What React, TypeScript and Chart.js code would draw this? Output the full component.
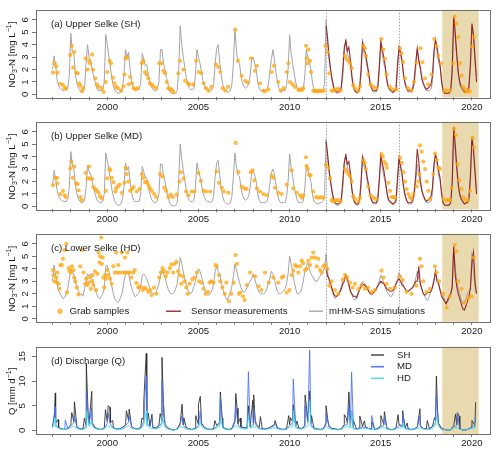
import React, { useEffect, useRef } from "react";
import { Chart, registerables } from "chart.js";

Chart.register(...registerables);

const FONT = '"Liberation Sans", Arial, Helvetica, sans-serif';

// ---------- axes ----------
const X_MIN = 1996.09;
const X_MAX = 2020.99;
const YEAR_TICKS = [1997, 1998, 1999, 2000, 2001, 2002, 2003, 2004, 2005, 2006, 2007, 2008, 2009, 2010, 2011, 2012, 2013, 2014, 2015, 2016, 2017, 2018, 2019, 2020];
const YEAR_LABELS = [2000, 2005, 2010, 2015, 2020];
const NO3_TICKS = [0, 1, 2, 3, 4, 5, 6];
const NO3_MIN = -0.23;
const NO3_MAX = 6.8;
const Q_TICKS = [0, 5, 10, 15];
const Q_MIN = -0.72;
const Q_MAX = 16.95;
const SHADE_PERIOD = [2018.37, 2020.37];
const SENSOR_BREAKS = [2012.0, 2016.0];

// ---------- mHM-SAS simulations, monthly from Jan 1997 (mg N/L) ----------
const SIM_START = 1997;
const simSH = [
  2.0, 3.1, 2.3, 1.2, 0.7, 0.5, 0.4, 0.3, 0.4, 0.3, 0.5, 1.5,
  4.9, 3.4, 3.3, 1.6, 0.9, 0.5, 0.3, 0.2, 0.3, 0.4, 2.5, 4.0,
  3.0, 2.7, 2.1, 1.5, 1.0, 0.5, 0.3, 0.3, 0.3, 0.4, 1.0, 4.8,
  4.0, 3.1, 2.2, 1.3, 0.7, 0.3, 0.2, 0.1, 0.1, 0.2, 0.5, 1.6,
  3.6, 3.0, 3.4, 2.0, 1.1, 0.6, 0.4, 0.4, 0.4, 0.4, 0.9, 3.3,
  2.8, 2.3, 2.4, 1.5, 1.0, 0.6, 0.4, 0.3, 0.3, 0.5, 1.0, 3.6,
  3.6, 2.5, 2.0, 1.3, 0.8, 0.3, 0.1, 0.05, 0.05, 0.1, 0.3, 2.0,
  5.5, 4.0, 3.0, 2.2, 1.3, 0.8, 0.5, 0.4, 0.4, 0.5, 1.5, 3.6,
  3.0, 2.5, 1.8, 1.1, 0.7, 0.5, 0.4, 0.4, 0.3, 0.4, 0.8, 2.5,
  3.7, 4.0, 2.6, 1.5, 0.8, 0.4, 0.3, 0.2, 0.2, 0.3, 0.8, 2.5,
  5.3, 3.5, 2.6, 2.5, 1.5, 0.9, 0.6, 0.5, 0.6, 0.8, 1.5, 2.8,
  3.0, 2.5, 2.0, 1.0, 0.5, 0.3, 0.3, 0.3, 0.3, 0.4, 0.8, 1.8,
  2.8, 3.6, 2.8, 1.8, 1.0, 0.5, 0.3, 0.3, 0.3, 0.3, 0.8, 2.0,
  4.8, 3.3, 2.5, 1.7, 1.0, 0.5, 0.3, 0.3, 0.3, 0.4, 1.5, 3.6,
  3.0, 2.6, 2.0, 1.0, 0.4, 0.3, 0.2, 0.2, 0.3, 0.3, 0.4, 0.8,
  6.0, 4.1, 2.8, 1.8, 1.0, 0.4, 0.2, 0.1, 0.1, 0.2, 0.4, 1.5,
  3.5, 4.4, 3.2, 3.0, 2.5, 1.2, 0.5, 0.2, 0.1, 0.1, 0.3, 1.5,
  4.2, 3.3, 3.0, 2.2, 1.5, 0.8, 0.4, 0.2, 0.2, 0.2, 0.4, 1.8,
  4.0, 3.2, 2.5, 2.0, 1.0, 0.5, 0.3, 0.2, 0.1, 0.2, 0.3, 1.8,
  3.9, 3.2, 2.5, 1.5, 0.8, 0.4, 0.2, 0.2, 0.2, 0.3, 0.8, 2.0,
  3.6, 2.6, 2.0, 1.2, 0.8, 0.5, 0.3, 0.3, 0.3, 0.4, 1.0, 3.0,
  4.3, 3.5, 2.6, 2.2, 1.2, 0.3, 0.2, 0.1, 0.1, 0.2, 0.3, 1.5,
  6.0, 4.5, 3.0, 1.5, 0.8, 0.5, 0.3, 0.2, 0.3, 0.3, 0.5, 2.0,
  5.5, 4.5, 2.5, 1.5,
];
const simMD = [
  1.7, 2.9, 2.2, 1.3, 0.8, 0.6, 0.5, 0.4, 0.4, 0.4, 0.6, 1.5,
  4.4, 3.3, 3.0, 1.7, 1.0, 0.6, 0.4, 0.3, 0.3, 0.5, 1.5, 3.3,
  2.8, 2.6, 2.0, 1.5, 1.0, 0.6, 0.4, 0.3, 0.3, 0.4, 1.0, 4.3,
  3.7, 3.0, 2.2, 1.4, 0.8, 0.4, 0.2, 0.1, 0.1, 0.2, 0.6, 1.6,
  3.5, 2.9, 3.2, 2.0, 1.1, 0.6, 0.4, 0.4, 0.4, 0.4, 1.0, 3.2,
  2.8, 2.3, 2.3, 1.5, 1.0, 0.6, 0.4, 0.3, 0.3, 0.5, 1.0, 3.4,
  3.4, 2.5, 2.0, 1.3, 0.8, 0.3, 0.1, 0.05, 0.05, 0.1, 0.3, 2.0,
  5.0, 3.8, 2.9, 2.1, 1.3, 0.8, 0.5, 0.4, 0.4, 0.5, 1.5, 3.5,
  2.9, 2.4, 1.8, 1.1, 0.7, 0.5, 0.4, 0.4, 0.3, 0.4, 0.8, 2.4,
  3.5, 3.7, 2.5, 1.5, 0.8, 0.4, 0.3, 0.2, 0.2, 0.3, 0.8, 2.4,
  4.3, 3.2, 2.5, 2.4, 1.5, 0.9, 0.6, 0.5, 0.6, 0.8, 1.5, 2.7,
  2.9, 2.5, 2.0, 1.0, 0.5, 0.3, 0.3, 0.3, 0.3, 0.4, 0.8, 1.8,
  2.7, 3.0, 2.6, 1.7, 1.0, 0.5, 0.3, 0.3, 0.3, 0.3, 0.8, 2.0,
  4.2, 3.1, 2.4, 1.6, 1.0, 0.5, 0.3, 0.3, 0.3, 0.4, 1.5, 3.3,
  2.9, 2.5, 2.0, 1.0, 0.4, 0.3, 0.2, 0.2, 0.3, 0.3, 0.4, 0.8,
  5.4, 3.9, 2.7, 1.8, 1.0, 0.4, 0.2, 0.1, 0.1, 0.2, 0.4, 1.5,
  3.4, 4.2, 3.1, 2.9, 2.4, 1.2, 0.5, 0.2, 0.1, 0.1, 0.3, 1.5,
  4.0, 3.2, 2.9, 2.1, 1.5, 0.8, 0.4, 0.2, 0.2, 0.2, 0.4, 1.8,
  3.9, 3.1, 2.4, 1.9, 1.0, 0.5, 0.3, 0.2, 0.1, 0.2, 0.3, 1.8,
  3.8, 3.1, 2.4, 1.5, 0.8, 0.4, 0.2, 0.2, 0.2, 0.3, 0.8, 2.0,
  3.4, 2.5, 2.0, 1.2, 0.8, 0.5, 0.3, 0.3, 0.3, 0.4, 1.0, 3.0,
  4.1, 3.4, 2.5, 2.1, 1.2, 0.3, 0.2, 0.1, 0.1, 0.2, 0.3, 1.5,
  5.8, 4.3, 2.9, 1.5, 0.8, 0.5, 0.3, 0.2, 0.3, 0.3, 0.5, 2.0,
  5.3, 4.2, 2.4, 1.4,
];
const simHD = [
  3.0, 4.3, 3.5, 2.8, 2.2, 2.0, 1.8, 1.6, 1.7, 2.0, 2.4, 3.2,
  4.0, 3.8, 3.5, 3.0, 2.6, 2.2, 1.9, 2.0, 1.8, 2.4, 3.0, 3.6,
  3.4, 3.6, 3.2, 2.8, 2.4, 2.0, 1.7, 1.6, 1.8, 2.0, 2.4, 4.2,
  4.3, 3.8, 3.3, 2.6, 2.0, 1.6, 1.4, 1.3, 1.5, 1.8, 2.2, 3.0,
  3.6, 3.8, 3.6, 3.0, 2.5, 2.1, 1.8, 1.8, 2.0, 2.1, 2.6, 3.5,
  3.6, 3.4, 3.2, 2.8, 2.4, 2.1, 2.0, 2.0, 2.1, 2.4, 2.8, 3.5,
  3.9, 3.6, 3.3, 2.8, 2.4, 2.1, 2.0, 2.0, 2.1, 2.4, 2.8, 3.8,
  4.9, 4.4, 3.8, 3.2, 2.7, 2.3, 2.1, 2.0, 2.2, 2.6, 3.0, 3.6,
  4.0, 3.8, 3.4, 2.9, 2.4, 2.0, 1.9, 1.9, 2.1, 2.3, 2.8, 3.8,
  4.2, 3.8, 3.6, 3.0, 2.4, 2.0, 1.7, 1.5, 1.8, 2.1, 2.6, 3.4,
  4.4, 3.9, 3.4, 2.9, 2.5, 2.2, 2.1, 2.3, 2.5, 2.8, 3.0, 3.2,
  3.6, 3.2, 2.8, 2.4, 2.1, 2.0, 2.0, 2.0, 2.1, 2.4, 2.8, 3.2,
  3.8, 3.6, 3.2, 2.6, 2.2, 2.0, 2.0, 2.1, 2.2, 2.4, 2.8, 3.6,
  5.0, 4.4, 3.8, 3.0, 2.4, 2.0, 2.0, 2.1, 2.4, 3.0, 3.8, 4.2,
  4.5, 4.0, 3.6, 3.4, 3.2, 3.0, 3.0, 3.2, 3.4, 3.6, 3.8, 4.0,
  5.2, 3.8, 3.0, 2.6, 2.2, 1.8, 1.6, 1.8, 2.0, 2.2, 2.6, 3.0,
  3.2, 3.5, 3.0, 2.6, 2.2, 1.9, 1.6, 1.5, 1.6, 2.0, 2.4, 2.8,
  3.0, 2.9, 2.7, 2.4, 2.2, 2.0, 1.9, 2.0, 2.2, 2.4, 2.7, 3.0,
  3.5, 3.2, 2.9, 2.5, 2.2, 2.0, 1.8, 1.8, 2.0, 2.4, 2.8, 3.2,
  3.7, 3.4, 3.0, 2.6, 2.4, 2.2, 2.2, 2.3, 2.4, 2.6, 2.8, 3.2,
  3.8, 3.2, 2.8, 2.4, 2.0, 1.8, 1.5, 1.5, 1.8, 2.2, 2.6, 3.2,
  3.8, 3.2, 2.8, 2.4, 2.0, 1.8, 1.5, 1.2, 1.3, 1.6, 2.0, 2.6,
  5.6, 4.2, 3.0, 2.4, 2.0, 1.5, 1.2, 1.3, 1.6, 2.0, 2.2, 2.5,
  5.3, 3.8, 2.5, 2.0,
];

// ---------- sensor measurements, monthly from Jan 2012 (mg N/L) ----------
const SENSOR_START = 2012;
const sensorSH = [
  5.5, 4.5, 3.0, 2.0, 1.2, 0.6, 0.3, 0.2, 0.2, 0.3, 0.6, 2.0,
  3.8, 4.3, 3.5, 3.8, 2.8, 1.5, 0.6, 0.3, 0.2, 0.2, 0.5, 2.0,
  4.2, 3.6, 3.3, 2.5, 1.8, 0.9, 0.5, 0.3, 0.3, 0.3, 0.6, 2.2,
  4.3, 3.6, 3.0, 2.2, 1.2, 0.6, 0.4, 0.3, 0.2, 0.3, 0.5, 2.4,
  3.8, 3.4, 2.7, 1.6, 0.9, 0.5, 0.3, 0.3, 0.3, 0.5, 1.2, 2.6,
  3.7, 2.8, 2.2, 1.3, 0.9, 0.6, 0.4, 0.5, 0.6, 0.8, 1.5, 3.5,
  4.4, 3.8, 3.0, 2.4, 1.0, 0.3, 0.1, 0.1, 0.1, 0.1, 0.3, 2.0,
  6.3, 5.0, 3.2, 1.8, 1.0, 0.6, 0.4, 0.2, 0.3, 0.3, 0.6, 2.5,
  5.7, 4.8, 3.0, 1.0,
];
const sensorMD = [
  5.2, 4.2, 2.9, 2.0, 1.2, 0.6, 0.3, 0.2, 0.2, 0.3, 0.6, 2.0,
  3.6, 4.1, 3.4, 3.6, 2.7, 1.4, 0.6, 0.3, 0.2, 0.2, 0.5, 2.0,
  4.0, 3.5, 3.2, 2.4, 1.7, 0.9, 0.5, 0.3, 0.3, 0.3, 0.6, 2.2,
  4.1, 3.5, 2.9, 2.1, 1.2, 0.6, 0.4, 0.3, 0.2, 0.3, 0.5, 2.3,
  3.9, 3.3, 2.6, 1.6, 0.9, 0.5, 0.3, 0.3, 0.3, 0.5, 1.2, 2.5,
  4.6, 3.6, 2.1, 1.3, 0.9, 0.6, 0.4, 0.5, 0.6, 0.8, 1.5, 3.4,
  4.2, 3.7, 2.9, 2.3, 1.0, 0.3, 0.1, 0.1, 0.1, 0.1, 0.3, 2.0,
  6.4, 5.0, 3.2, 1.8, 1.0, 0.6, 0.4, 0.2, 0.3, 0.3, 0.6, 2.5,
  5.6, 4.6, 2.9, 1.0,
];
const sensorHD = [
  4.0, 3.4, 3.2, 2.8, 2.4, 2.0, 1.8, 1.8, 1.9, 2.1, 2.4, 2.8,
  3.0, 3.5, 3.2, 2.8, 2.2, 2.0, 1.8, 1.8, 1.7, 2.0, 2.3, 2.6,
  2.8, 2.7, 2.6, 2.5, 2.2, 2.0, 2.0, 2.1, 2.2, 2.4, 2.6, 2.8,
  3.0, 2.9, 2.8, 2.6, 2.4, 2.3, 2.2, 2.2, 2.3, 2.5, 2.8, 3.0,
  3.2, 3.0, 2.7, 2.6, 2.4, 2.2, 2.2, 2.3, 2.4, 2.5, 2.7, 3.0,
  3.0, 4.2, 2.8, 2.4, 2.0, 1.9, 2.0, 2.1, 2.1, 2.2, 2.5, 3.0,
  3.8, 3.0, 2.8, 2.3, 1.8, 1.6, 1.4, 1.2, 1.5, 1.8, 2.0, 2.5,
  5.8, 3.5, 2.6, 2.0, 1.6, 1.2, 0.8, 0.7, 1.0, 1.4, 1.8, 2.4,
  4.5, 5.3, 3.0, 2.0,
];

// ---------- grab samples [decimal year, mg N/L] ----------
const grabSH: [number, number][] = [
  [1997.02, 1.75], [1997.11, 2.5], [1997.2, 2.25], [1997.27, 1.75], [1997.42, 0.86], [1997.57, 0.76], [1997.66, 0.5], [1997.72, 0.5],
  [1997.97, 3.17], [1998.04, 3.9], [1998.13, 2.15], [1998.19, 3.4], [1998.3, 1.75], [1998.37, 1.7], [1998.45, 0.9], [1998.52, 0.7],
  [1998.61, 0.25], [1998.67, 0.5], [1998.81, 2.9], [1998.92, 2.0], [1999.0, 2.7], [1999.06, 2.5], [1999.17, 3.2], [1999.22, 2.0],
  [1999.34, 1.3], [1999.43, 0.8], [1999.52, 0.6], [1999.69, 0.5], [1999.8, 0.2], [1999.92, 1.0], [2000.0, 1.8], [2000.12, 2.7],
  [2000.2, 2.5], [2000.31, 1.35], [2000.4, 0.9], [2000.48, 0.6], [2000.58, 0.5], [2000.76, 0.3], [2000.89, 0.65], [2000.94, 1.6],
  [2001.0, 2.9], [2001.09, 2.95], [2001.17, 0.8], [2001.25, 1.4], [2001.35, 0.9], [2001.44, 0.5], [2001.55, 0.4], [2001.67, 0.5],
  [2001.89, 2.5], [2001.98, 2.7], [2002.07, 1.8], [2002.16, 1.6], [2002.25, 1.3], [2002.34, 0.9], [2002.43, 0.8], [2002.53, 0.65],
  [2002.67, 0.5], [2002.86, 2.5], [2002.98, 2.5], [2003.07, 1.9], [2003.17, 1.7], [2003.26, 1.0], [2003.35, 0.5], [2003.44, 0.4],
  [2003.53, 0.4], [2003.63, 0.2], [2003.9, 1.7], [2003.99, 2.7], [2004.17, 2.0], [2004.27, 1.1], [2004.42, 0.9], [2004.5, 0.8],
  [2004.72, 0.8], [2004.87, 2.7], [2005.01, 1.8], [2005.16, 1.7], [2005.29, 0.9], [2005.41, 0.5], [2005.56, 0.3], [2005.71, 0.6],
  [2005.96, 2.4], [2006.09, 2.2], [2006.2, 1.8], [2006.33, 0.5], [2006.47, 0.3], [2006.62, 0.6], [2007.02, 5.2], [2007.17, 2.7],
  [2007.37, 1.5], [2007.57, 1.1], [2007.7, 0.95], [2007.88, 2.9], [2008.1, 1.9], [2008.2, 2.3], [2008.38, 0.9], [2008.56, 0.3],
  [2008.65, 0.25], [2008.83, 0.4], [2009.02, 1.8], [2009.14, 2.3], [2009.38, 1.0], [2009.51, 0.3], [2009.66, 0.5], [2009.84, 1.8],
  [2009.93, 2.5], [2010.02, 1.0], [2010.17, 0.8], [2010.3, 0.6], [2010.48, 0.35], [2010.57, 0.4], [2010.66, 0.35], [2010.75, 0.5],
  [2010.9, 3.9], [2010.94, 2.9], [2010.97, 2.5], [2011.03, 3.6], [2011.12, 2.7], [2011.17, 1.8], [2011.3, 0.3], [2011.39, 0.25],
  [2011.48, 0.3], [2011.57, 0.25], [2011.67, 0.3], [2011.76, 0.25], [2011.88, 0.3], [2011.96, 3.9], [2012.07, 3.4], [2012.18, 1.7],
  [2012.3, 0.3], [2012.4, 0.3], [2012.54, 0.4], [2012.67, 0.45], [2012.8, 0.3], [2013.04, 3.1], [2013.13, 2.85], [2013.22, 2.7],
  [2013.31, 2.5], [2013.4, 2.1], [2013.49, 0.75], [2013.58, 0.5], [2013.77, 0.3], [2013.86, 0.65], [2014.04, 3.9], [2014.13, 3.7],
  [2014.19, 3.1], [2014.31, 1.6], [2014.44, 0.8], [2014.59, 0.6], [2014.73, 0.5], [2015.04, 4.45], [2015.14, 3.6], [2015.23, 2.85],
  [2015.32, 1.6], [2015.5, 0.6], [2015.65, 0.4], [2015.87, 0.4], [2016.05, 3.7], [2016.14, 3.3], [2016.23, 2.6], [2016.32, 1.3],
  [2016.5, 0.5], [2016.69, 0.3], [2016.82, 1.0], [2016.96, 2.55], [2017.18, 3.7], [2017.29, 2.6], [2017.42, 1.3], [2017.6, 0.8],
  [2017.78, 1.6], [2017.93, 4.45], [2018.06, 3.9], [2018.15, 3.1], [2018.33, 2.5], [2018.48, 0.3], [2018.61, 0.3], [2018.79, 0.3],
  [2018.97, 2.5], [2019.06, 6.25], [2019.15, 5.7], [2019.25, 4.6], [2019.34, 2.5], [2019.43, 1.5], [2019.52, 0.6], [2019.61, 0.4],
  [2019.7, 0.2], [2019.79, 0.3], [2019.88, 0.25], [2020.01, 3.85], [2020.1, 4.6],
];
const grabMD: [number, number][] = [
  [1997.02, 1.7], [1997.15, 2.3], [1997.24, 2.3], [1997.27, 1.85], [1997.42, 1.0], [1997.57, 1.25], [1997.66, 0.9], [1997.72, 0.75],
  [1997.97, 3.05], [1998.02, 3.6], [1998.11, 2.3], [1998.19, 3.2], [1998.3, 1.85], [1998.37, 1.8], [1998.43, 1.3], [1998.52, 0.75],
  [1998.61, 0.5], [1998.81, 2.7], [1998.92, 2.25], [1999.0, 3.2], [1999.04, 2.25], [1999.17, 2.2], [1999.24, 1.55], [1999.34, 1.4],
  [1999.43, 1.25], [1999.52, 1.1], [1999.6, 0.8], [1999.7, 0.65], [1999.92, 1.25], [2000.0, 2.25], [2000.12, 3.0], [2000.16, 2.9],
  [2000.25, 2.3], [2000.34, 1.95], [2000.45, 1.2], [2000.49, 1.45], [2000.58, 1.6], [2000.67, 1.75], [2000.8, 1.1], [2000.94, 1.9],
  [2001.0, 3.1], [2001.07, 2.6], [2001.16, 2.0], [2001.25, 1.25], [2001.35, 1.4], [2001.44, 1.55], [2001.62, 1.2], [2001.77, 1.4],
  [2001.9, 2.6], [2001.98, 2.3], [2002.08, 1.95], [2002.17, 1.95], [2002.26, 1.7], [2002.35, 1.45], [2002.44, 1.25], [2002.57, 1.0],
  [2002.68, 0.75], [2002.9, 2.6], [2003.03, 2.4], [2003.12, 1.5], [2003.23, 1.25], [2003.35, 0.75], [2003.48, 0.95], [2003.59, 0.75],
  [2003.81, 0.95], [2003.96, 2.0], [2004.03, 2.75], [2004.18, 2.25], [2004.32, 1.2], [2004.45, 0.9], [2004.63, 1.2], [2004.78, 1.2],
  [2005.0, 2.7], [2005.13, 2.05], [2005.27, 1.25], [2005.42, 1.2], [2005.64, 1.2], [2006.0, 2.8], [2006.13, 1.9], [2006.28, 1.5],
  [2006.4, 1.2], [2006.64, 1.1], [2007.04, 5.1], [2007.19, 2.75], [2007.37, 1.6], [2007.52, 1.45], [2007.65, 1.4], [2007.87, 2.75],
  [2007.96, 2.9], [2008.07, 2.1], [2008.2, 1.45], [2008.38, 1.2], [2008.56, 1.0], [2008.74, 0.9], [2009.02, 2.45], [2009.11, 2.3],
  [2009.2, 1.5], [2009.38, 1.1], [2009.56, 1.0], [2009.84, 1.75], [2010.11, 2.9], [2010.2, 1.45], [2010.39, 1.1], [2010.57, 0.9],
  [2010.66, 0.7], [2010.75, 0.9], [2010.9, 3.95], [2010.93, 3.25], [2010.99, 3.0], [2011.06, 2.55], [2011.15, 2.5], [2011.3, 1.2],
  [2011.45, 0.75], [2011.57, 0.7], [2011.7, 0.75], [2011.85, 0.7], [2011.99, 3.35], [2012.12, 3.1], [2012.21, 2.25], [2012.3, 0.5],
  [2012.4, 0.4], [2012.54, 0.5], [2012.67, 0.5], [2012.8, 0.4], [2013.04, 3.0], [2013.13, 2.8], [2013.22, 2.6], [2013.31, 2.4],
  [2013.4, 2.0], [2013.49, 0.8], [2013.58, 0.6], [2013.77, 0.4], [2013.86, 0.7], [2014.04, 3.7], [2014.13, 3.5], [2014.19, 3.0],
  [2014.31, 1.6], [2014.44, 0.9], [2014.59, 0.7], [2014.73, 0.6], [2015.04, 4.2], [2015.11, 4.0], [2015.18, 3.6], [2015.29, 3.4],
  [2015.33, 3.1], [2015.42, 1.9], [2015.51, 1.25], [2015.6, 0.75], [2015.69, 0.75], [2015.78, 0.7], [2016.06, 3.9], [2016.15, 3.5],
  [2016.24, 2.75], [2016.33, 2.0], [2016.42, 1.4], [2016.51, 1.0], [2016.6, 0.75], [2016.69, 0.6], [2016.79, 1.0], [2016.97, 1.6],
  [2017.06, 2.0], [2017.12, 2.6], [2017.15, 4.9], [2017.24, 4.4], [2017.33, 3.6], [2017.43, 3.0], [2017.52, 2.0], [2017.61, 1.25],
  [2017.7, 0.6], [2017.88, 2.6], [2017.97, 4.25], [2018.07, 3.75], [2018.16, 3.1], [2018.25, 3.0], [2018.43, 0.6], [2018.61, 0.5],
  [2018.7, 0.5], [2018.8, 0.5], [2018.89, 1.5], [2019.01, 6.25], [2019.12, 5.75], [2019.22, 3.4], [2019.31, 2.1], [2019.43, 1.4],
  [2019.53, 0.75], [2019.62, 0.55], [2019.8, 0.5], [2019.89, 1.25], [2020.04, 5.5], [2020.11, 4.75],
];
const grabHD: [number, number][] = [
  [1997.02, 3.9], [1997.05, 3.5], [1997.11, 3.0], [1997.2, 3.3], [1997.24, 2.9], [1997.27, 3.7], [1997.33, 2.8], [1997.38, 2.4],
  [1997.42, 4.3], [1997.51, 4.3], [1997.57, 4.8], [1997.64, 5.5], [1997.75, 6.0], [1997.79, 2.1], [1997.88, 4.05], [1997.93, 3.8],
  [1998.0, 3.7], [1998.06, 4.2], [1998.15, 3.9], [1998.19, 3.3], [1998.24, 3.0], [1998.33, 2.5], [1998.42, 1.95], [1998.52, 4.2],
  [1998.61, 5.5], [1998.7, 3.7], [1998.79, 2.8], [1998.84, 3.2], [1998.92, 2.7], [1998.97, 2.9], [1999.02, 3.3], [1999.1, 2.4],
  [1999.15, 3.0], [1999.2, 3.5], [1999.24, 2.7], [1999.33, 3.8], [1999.39, 2.3], [1999.46, 3.6], [1999.52, 5.3], [1999.57, 4.5],
  [1999.61, 5.0], [1999.67, 6.5], [1999.7, 4.4], [1999.75, 4.9], [1999.79, 3.3], [1999.83, 2.5], [1999.88, 3.5], [1999.93, 3.2],
  [2000.0, 3.9], [2000.05, 3.5], [2000.15, 3.2], [2000.24, 2.8], [2000.33, 4.2], [2000.42, 3.7], [2000.48, 5.3], [2000.55, 3.7],
  [2000.6, 4.3], [2000.7, 3.7], [2000.79, 5.3], [2000.88, 3.7], [2000.97, 4.9], [2001.02, 3.7], [2001.1, 5.3], [2001.15, 3.7],
  [2001.24, 3.7], [2001.33, 3.3], [2001.42, 3.7], [2001.51, 3.9], [2001.6, 2.85], [2001.7, 2.5], [2001.79, 2.6], [2001.94, 2.3],
  [2002.01, 2.5], [2002.12, 2.4], [2002.25, 2.15], [2002.34, 2.3], [2002.43, 1.9], [2002.56, 2.5], [2002.7, 2.0], [2002.85, 3.3],
  [2002.94, 3.7], [2003.03, 4.05], [2003.12, 3.8], [2003.21, 3.4], [2003.3, 3.7], [2003.43, 4.05], [2003.52, 4.35], [2003.61, 3.7],
  [2003.7, 4.4], [2003.79, 4.55], [2003.88, 3.8], [2003.97, 3.5], [2004.06, 2.8], [2004.15, 3.4], [2004.24, 3.0], [2004.33, 2.5],
  [2004.42, 2.0], [2004.51, 2.8], [2004.66, 3.15], [2004.79, 3.3], [2004.92, 3.7], [2005.03, 3.0], [2005.16, 2.9], [2005.28, 2.4],
  [2005.39, 2.0], [2005.52, 2.15], [2005.61, 2.9], [2005.7, 3.0], [2005.83, 2.9], [2005.94, 4.3], [2006.01, 4.2], [2006.12, 3.5],
  [2006.2, 3.0], [2006.31, 2.5], [2006.44, 2.0], [2006.53, 2.9], [2006.67, 1.4], [2006.8, 2.0], [2006.93, 2.9], [2007.04, 5.1],
  [2007.11, 4.4], [2007.22, 2.0], [2007.29, 2.1], [2007.44, 1.8], [2007.53, 1.5], [2007.66, 2.7], [2007.83, 3.7], [2008.1, 3.4],
  [2008.3, 2.6], [2008.45, 2.3], [2008.65, 3.7], [2008.85, 2.9], [2009.11, 3.3], [2009.38, 2.9], [2009.57, 3.3], [2009.66, 3.4],
  [2009.84, 2.1], [2009.99, 2.3], [2010.11, 3.5], [2010.2, 3.85], [2010.3, 4.3], [2010.39, 4.2], [2010.48, 3.7], [2010.57, 4.2],
  [2010.66, 4.65], [2010.75, 4.45], [2010.84, 3.9], [2010.94, 4.0], [2011.03, 4.65], [2011.12, 4.3], [2011.21, 4.9], [2011.3, 5.3],
  [2011.39, 4.9], [2011.48, 4.2], [2011.57, 4.8], [2011.67, 3.9], [2011.76, 3.7], [2011.85, 4.2], [2011.94, 4.3], [2012.07, 4.0],
  [2012.18, 2.65], [2012.3, 3.0], [2012.49, 2.3], [2012.67, 2.0], [2012.91, 3.15], [2013.04, 3.5], [2013.16, 3.3], [2013.31, 2.9],
  [2013.46, 2.5], [2013.58, 2.8], [2013.77, 2.4], [2013.95, 2.65], [2014.13, 2.4], [2014.31, 2.5], [2014.5, 2.15], [2014.68, 2.3],
  [2015.04, 3.85], [2015.14, 3.3], [2015.32, 2.8], [2015.5, 2.4], [2015.77, 2.5], [2016.05, 3.4], [2016.2, 3.1], [2016.41, 2.15],
  [2016.69, 2.0], [2016.96, 2.65], [2017.15, 4.8], [2017.24, 4.2], [2017.33, 3.0], [2017.51, 2.15], [2017.69, 2.4], [2017.97, 4.2],
  [2018.06, 3.7], [2018.2, 3.0], [2018.42, 2.0], [2018.61, 0.9], [2018.79, 1.8], [2019.06, 5.9], [2019.15, 5.4], [2019.25, 3.0],
  [2019.43, 2.4], [2019.61, 1.3], [2019.79, 1.65], [2019.98, 1.8], [2020.1, 4.9],
];

// ---------- discharge (mm/d): bi-monthly base flow from Jan 1997 + event peaks ----------
const Q_BASE_START = 1997;
const qBaseSH = [
  0.8, 1.5, 0.6, 0.3, 0.2, 0.4, 1.2, 1.8, 0.7, 0.3, 0.3, 1.0, 1.5, 1.6, 0.6, 0.3, 0.2, 0.5,
  1.8, 1.6, 0.6, 0.3, 0.3, 0.6, 1.2, 2.0, 0.8, 0.4, 0.3, 0.6, 2.2, 1.8, 0.9, 0.6, 0.5, 1.0,
  2.0, 1.2, 0.5, 0.2, 0.1, 0.3, 1.5, 1.2, 0.6, 0.3, 0.2, 0.5, 1.2, 1.5, 0.6, 0.3, 0.2, 0.4,
  1.0, 1.6, 0.7, 0.3, 0.2, 0.4, 2.0, 1.4, 0.7, 0.6, 0.5, 0.8, 1.5, 1.2, 0.6, 0.3, 0.3, 0.5,
  0.8, 1.2, 0.5, 0.3, 0.2, 0.4, 1.2, 1.8, 0.9, 0.5, 0.4, 1.0, 2.0, 1.4, 0.5, 0.3, 0.2, 0.3,
  1.5, 0.8, 0.4, 0.3, 0.2, 0.3, 1.2, 1.5, 1.0, 0.4, 0.3, 0.5, 0.8, 0.7, 0.4, 0.3, 0.2, 0.4,
  1.0, 1.2, 0.5, 0.2, 0.2, 0.5, 1.2, 1.0, 0.5, 0.3, 0.2, 0.3, 0.7, 1.0, 0.4, 0.3, 0.4, 0.8,
  2.0, 1.5, 0.4, 0.2, 0.1, 0.1, 1.0, 1.2, 0.3, 0.1, 0.1, 0.3, 0.8, 1.0,
];
const qBaseMD = [
  0.7, 1.2, 0.5, 0.3, 0.2, 0.3, 1.0, 1.5, 0.6, 0.3, 0.3, 0.8, 1.2, 1.3, 0.5, 0.3, 0.2, 0.4,
  1.5, 1.3, 0.5, 0.3, 0.3, 0.5, 1.0, 1.6, 0.7, 0.4, 0.3, 0.5, 1.8, 1.5, 0.8, 0.5, 0.4, 0.8,
  1.6, 1.0, 0.4, 0.2, 0.1, 0.3, 1.2, 1.0, 0.5, 0.3, 0.2, 0.4, 1.0, 1.2, 0.5, 0.3, 0.2, 0.3,
  0.8, 1.3, 0.6, 0.3, 0.2, 0.3, 1.6, 1.1, 0.6, 0.5, 0.4, 0.7, 1.2, 1.0, 0.5, 0.3, 0.3, 0.4,
  0.7, 1.0, 0.4, 0.3, 0.2, 0.3, 1.0, 1.5, 0.8, 0.4, 0.4, 0.8, 1.6, 1.2, 0.4, 0.3, 0.2, 0.3,
  1.2, 0.7, 0.3, 0.3, 0.2, 0.3, 1.0, 1.2, 0.8, 0.4, 0.3, 0.4, 0.7, 0.6, 0.4, 0.3, 0.2, 0.3,
  0.8, 1.0, 0.4, 0.2, 0.2, 0.4, 1.0, 0.8, 0.4, 0.3, 0.2, 0.3, 0.6, 0.8, 0.4, 0.3, 0.3, 0.7,
  1.6, 1.2, 0.3, 0.2, 0.1, 0.1, 0.8, 1.0, 0.3, 0.1, 0.1, 0.3, 0.7, 0.8,
];
const qBaseHD = [
  0.4, 0.8, 0.4, 0.2, 0.2, 0.3, 0.6, 0.9, 0.4, 0.2, 0.2, 0.5, 0.8, 0.8, 0.4, 0.2, 0.2, 0.3,
  0.9, 0.8, 0.4, 0.2, 0.2, 0.3, 0.6, 1.0, 0.4, 0.3, 0.2, 0.3, 1.1, 1.0, 0.5, 0.4, 0.3, 0.5,
  1.0, 0.6, 0.3, 0.1, 0.1, 0.2, 0.8, 0.6, 0.3, 0.2, 0.1, 0.3, 0.6, 0.8, 0.3, 0.2, 0.1, 0.2,
  0.5, 0.8, 0.4, 0.2, 0.1, 0.2, 1.0, 0.7, 0.4, 0.3, 0.3, 0.4, 0.8, 0.6, 0.3, 0.2, 0.2, 0.3,
  0.4, 0.6, 0.3, 0.2, 0.1, 0.2, 0.6, 0.9, 0.5, 0.3, 0.3, 0.5, 1.0, 0.8, 0.3, 0.2, 0.1, 0.2,
  0.8, 0.4, 0.2, 0.2, 0.1, 0.2, 0.6, 0.8, 0.5, 0.3, 0.2, 0.3, 0.4, 0.4, 0.3, 0.2, 0.1, 0.2,
  0.5, 0.6, 0.3, 0.1, 0.1, 0.3, 0.6, 0.5, 0.3, 0.2, 0.1, 0.2, 0.4, 0.5, 0.3, 0.2, 0.2, 0.4,
  1.0, 0.8, 0.2, 0.1, 0.1, 0.1, 0.5, 0.6, 0.2, 0.1, 0.1, 0.2, 0.4, 0.5,
];
const qPeaksSH: [number, number][] = [
  [1997.1, 3.0], [1997.15, 7.6], [1997.3, 2.2], [1998.05, 3.6], [1998.2, 5.8], [1998.75, 2.5], [1998.85, 13.6], [1998.95, 3.0],
  [1999.15, 7.9], [1999.9, 4.2], [2000.05, 5.0], [2000.15, 4.7], [2000.3, 2.0], [2001.05, 4.0], [2001.2, 4.3], [2001.9, 2.5],
  [2002.0, 5.7], [2002.08, 11.8], [2002.14, 15.6], [2002.25, 3.5], [2002.45, 3.3], [2002.9, 3.4], [2003.0, 14.8], [2003.1, 3.0],
  [2004.1, 5.3], [2004.2, 2.5], [2004.85, 3.0], [2005.0, 5.3], [2005.1, 6.9], [2005.9, 2.0], [2006.2, 7.8], [2006.3, 2.5],
  [2007.05, 7.5], [2007.12, 4.5], [2007.3, 2.5], [2007.74, 5.0], [2007.98, 6.1], [2008.03, 7.2], [2008.1, 2.5], [2008.4, 2.8],
  [2009.2, 2.0], [2009.95, 3.0], [2010.05, 2.6], [2010.2, 5.2], [2010.4, 1.9], [2010.85, 7.2], [2011.1, 8.0], [2011.2, 3.0],
  [2012.0, 5.0], [2012.1, 2.0], [2013.0, 3.2], [2013.1, 2.6], [2013.25, 7.8], [2013.4, 4.0], [2013.5, 2.0], [2013.85, 2.9],
  [2014.1, 1.9], [2014.5, 1.8], [2015.0, 3.0], [2015.2, 3.8], [2015.95, 3.2], [2016.2, 4.0], [2016.45, 1.5], [2017.15, 4.4],
  [2017.55, 2.0], [2017.95, 2.6], [2018.05, 11.0], [2018.12, 3.5], [2019.1, 3.3], [2019.2, 3.6], [2019.3, 2.9], [2020.0, 2.0],
  [2020.2, 5.7],
];
const qPeaksMD: [number, number][] = [
  [1997.15, 4.8], [1997.7, 2.1], [1998.2, 3.0], [1998.85, 8.0], [1999.15, 4.5], [2000.05, 3.5], [2001.2, 3.0], [2002.08, 8.0],
  [2002.14, 11.0], [2002.45, 2.5], [2003.0, 10.0], [2004.1, 3.0], [2005.1, 4.0], [2006.2, 7.0], [2007.05, 5.0], [2007.74, 11.9],
  [2008.03, 4.5], [2009.2, 1.5], [2010.2, 10.4], [2010.85, 5.0], [2011.1, 16.3], [2012.0, 3.5], [2013.25, 5.0], [2013.4, 11.8],
  [2014.5, 3.0], [2015.2, 3.0], [2016.2, 3.5], [2017.15, 3.0], [2018.05, 7.0], [2019.2, 3.5], [2020.2, 3.0],
];
const qPeaksHD: [number, number][] = [
  [1997.15, 2.5], [1998.85, 4.0], [1999.15, 2.0], [2002.14, 4.0], [2003.0, 3.0], [2005.1, 1.8], [2006.2, 2.5], [2007.74, 3.0],
  [2010.2, 4.0], [2011.1, 6.0], [2013.4, 4.0], [2016.2, 1.5], [2018.05, 3.0], [2020.2, 1.5],
];

// ---------- helpers ----------
type Pt = { x: number; y: number };
const monthly = (vals: number[], start: number, stepMonths = 1): Pt[] =>
  vals.map((v, i) => ({ x: start + (i * stepMonths) / 12, y: v }));
const pairs = (arr: [number, number][]): Pt[] => arr.map(([x, y]) => ({ x, y }));
const withPeaks = (base: Pt[], peaks: [number, number][]): Pt[] =>
  [...base, ...pairs(peaks)].sort((a, b) => a.x - b.x);

const SHADE_COLOR = "#E9D9AF";
const BOX_COLOR = "#707070";
const TEXT_COLOR = "#1a1a1a";
const GRAB_COLOR = "rgba(255,168,20,0.78)";
const FS = 9.6;

type Piece = { t: string; small?: boolean; dy?: number };
const NO3_TITLE: Piece[] = [
  { t: "NO" }, { t: "3", small: true, dy: 2.6 }, { t: "-N [mg L" }, { t: "\u22121", small: true, dy: -3.4 }, { t: "]" },
];
const Q_TITLE: Piece[] = [{ t: "Q [mm d" }, { t: "\u22121", small: true, dy: -3.4 }, { t: "]" }];

function drawRotatedTitle(ctx: CanvasRenderingContext2D, pieces: Piece[], cx: number, cy: number) {
  ctx.save();
  ctx.translate(cx, cy);
  ctx.rotate(-Math.PI / 2);
  ctx.fillStyle = TEXT_COLOR;
  ctx.textBaseline = "middle";
  ctx.textAlign = "left";
  const fontOf = (p: Piece) => `${p.small ? 7 : FS}px ${FONT}`;
  let total = 0;
  const widths = pieces.map((p) => {
    ctx.font = fontOf(p);
    const w = ctx.measureText(p.t).width;
    total += w;
    return w;
  });
  let x = -total / 2;
  pieces.forEach((p, i) => {
    ctx.font = fontOf(p);
    ctx.fillText(p.t, x, p.dy || 0);
    x += widths[i];
  });
  ctx.restore();
}

type PanelCfg = {
  key: string;
  top: number;
  height: number;
  padTop: number;
  xAxisH: number;
  title: string;
  kind: "no3" | "q";
  legend: boolean;
  datasets: any[];
};

function makePlugin(cfg: PanelCfg) {
  return {
    id: "panelDecor_" + cfg.key,
    beforeDatasetsDraw(chart: any) {
      const { ctx, chartArea: a, scales } = chart;
      const x = scales.x;
      ctx.save();
      const x0 = x.getPixelForValue(SHADE_PERIOD[0]);
      const x1 = x.getPixelForValue(SHADE_PERIOD[1]);
      ctx.fillStyle = SHADE_COLOR;
      ctx.fillRect(x0, a.top, x1 - x0, a.bottom - a.top);
      if (cfg.kind === "no3") {
        ctx.strokeStyle = "#8a8a8a";
        ctx.lineWidth = 0.8;
        ctx.setLineDash([1.5, 1.5]);
        SENSOR_BREAKS.forEach((yr) => {
          const px = Math.round(x.getPixelForValue(yr)) + 0.5;
          ctx.beginPath();
          ctx.moveTo(px, a.top);
          ctx.lineTo(px, a.bottom);
          ctx.stroke();
        });
      }
      ctx.restore();
    },
    afterDraw(chart: any) {
      const { ctx, chartArea: a } = chart;
      ctx.save();
      ctx.strokeStyle = BOX_COLOR;
      ctx.lineWidth = 1;
      ctx.strokeRect(Math.round(a.left) + 0.5, Math.round(a.top) + 0.5, Math.round(a.right - a.left), Math.round(a.bottom - a.top));
      ctx.fillStyle = TEXT_COLOR;
      ctx.font = `${FS}px ${FONT}`;
      ctx.textBaseline = "middle";
      ctx.textAlign = "left";
      ctx.fillText(cfg.title, a.left + 15, a.top + 14.5);
      drawRotatedTitle(ctx, cfg.kind === "no3" ? NO3_TITLE : Q_TITLE, 12, (a.top + a.bottom) / 2 + 1);
      if (cfg.legend && cfg.kind === "no3") {
        const ly = a.bottom - 10.5;
        ctx.fillStyle = GRAB_COLOR;
        ctx.beginPath();
        ctx.arc(60, ly, 2.6, 0, Math.PI * 2);
        ctx.fill();
        ctx.fillStyle = TEXT_COLOR;
        ctx.fillText("Grab samples", 69.5, ly);
        ctx.strokeStyle = "#8B0A0A";
        ctx.lineWidth = 1.2;
        ctx.beginPath();
        ctx.moveTo(166, ly);
        ctx.lineTo(181, ly);
        ctx.stroke();
        ctx.fillText("Sensor measurements", 191, ly);
        ctx.strokeStyle = "#999999";
        ctx.beginPath();
        ctx.moveTo(309, ly);
        ctx.lineTo(323, ly);
        ctx.stroke();
        ctx.fillText("mHM-SAS simulations", 329, ly);
      }
      if (cfg.legend && cfg.kind === "q") {
        const items = [
          { t: "SH", c: "#555555", y: 355 },
          { t: "MD", c: "#5578F5", y: 366.7 },
          { t: "HD", c: "#52E0E6", y: 378.3 },
        ];
        const off = chart.canvas.offsetTop || 0;
        items.forEach((it) => {
          const yy = it.y - off;
          ctx.strokeStyle = it.c;
          ctx.lineWidth = 1.6;
          ctx.beginPath();
          ctx.moveTo(371, yy);
          ctx.lineTo(384, yy);
          ctx.stroke();
          ctx.fillStyle = TEXT_COLOR;
          ctx.fillText(it.t, 397, yy);
        });
      }
      ctx.restore();
    },
  };
}

function no3Datasets(grab: [number, number][], sensor: number[], sim: number[]) {
  return [
    {
      label: "Grab samples",
      data: pairs(grab),
      pointRadius: 2.1,
      pointBackgroundColor: GRAB_COLOR,
      pointBorderWidth: 0,
      showLine: false,
      order: 0,
    },
    {
      label: "Sensor measurements",
      data: monthly(sensor, SENSOR_START),
      showLine: true,
      borderColor: "rgba(139,10,10,0.85)",
      borderWidth: 1.1,
      pointRadius: 0,
      order: 1,
    },
    {
      label: "mHM-SAS simulations",
      data: monthly(sim, SIM_START),
      showLine: true,
      borderColor: "#a3a3a3",
      borderWidth: 1,
      pointRadius: 0,
      order: 2,
    },
  ];
}

const PANELS: PanelCfg[] = [
  { key: "a", top: 0, height: 113, padTop: 4, xAxisH: 15.7, title: "(a) Upper Selke (SH)", kind: "no3", legend: false, datasets: no3Datasets(grabSH, sensorSH, simSH) },
  { key: "b", top: 112, height: 113, padTop: 4.5, xAxisH: 15.7, title: "(b) Upper Selke (MD)", kind: "no3", legend: false, datasets: no3Datasets(grabMD, sensorMD, simMD) },
  { key: "c", top: 224, height: 113, padTop: 4.3, xAxisH: 15.3, title: "(c) Lower Selke (HD)", kind: "no3", legend: true, datasets: no3Datasets(grabHD, sensorHD, simHD) },
  {
    key: "d", top: 337, height: 113, padTop: 4.7, xAxisH: 16, title: "(d) Discharge (Q)", kind: "q", legend: true,
    datasets: [
      { label: "SH", data: withPeaks(monthly(qBaseSH, Q_BASE_START, 2), qPeaksSH), showLine: true, borderColor: "rgba(40,40,40,0.85)", borderWidth: 1, pointRadius: 0, order: 2 },
      { label: "MD", data: withPeaks(monthly(qBaseMD, Q_BASE_START, 2), qPeaksMD), showLine: true, borderColor: "rgba(70,110,245,0.85)", borderWidth: 1, pointRadius: 0, order: 1 },
      { label: "HD", data: withPeaks(monthly(qBaseHD, Q_BASE_START, 2), qPeaksHD), showLine: true, borderColor: "rgba(70,220,230,0.9)", borderWidth: 1, pointRadius: 0, order: 0 },
    ],
  },
];

function Panel({ cfg }: { cfg: PanelCfg }) {
  const ref = useRef<HTMLCanvasElement | null>(null);
  useEffect(() => {
    if (!ref.current) return;
    const isNo3 = cfg.kind === "no3";
    const chart = new Chart(ref.current, {
      type: "scatter",
      data: { datasets: cfg.datasets },
      plugins: [makePlugin(cfg)],
      options: {
        responsive: false,
        animation: false,
        events: [],
        layout: { padding: { top: cfg.padTop, right: 10, left: 0, bottom: 0 } },
        plugins: { legend: { display: false }, tooltip: { enabled: false } },
        scales: {
          x: {
            type: "linear",
            min: X_MIN,
            max: X_MAX,
            afterBuildTicks: (s: any) => {
              s.ticks = YEAR_TICKS.map((v) => ({ value: v }));
            },
            afterFit: (s: any) => {
              s.height = cfg.xAxisH;
            },
            border: { display: false },
            grid: { drawOnChartArea: false, drawTicks: true, tickLength: 3, color: BOX_COLOR, lineWidth: 1 },
            ticks: {
              autoSkip: false,
              maxRotation: 0,
              minRotation: 0,
              padding: 1,
              color: TEXT_COLOR,
              font: { family: FONT, size: FS },
              callback: (v: any) => (YEAR_LABELS.includes(Number(v)) ? String(v) : ""),
            },
          },
          y: {
            type: "linear",
            min: isNo3 ? NO3_MIN : Q_MIN,
            max: isNo3 ? NO3_MAX : Q_MAX,
            afterBuildTicks: (s: any) => {
              s.ticks = (isNo3 ? NO3_TICKS : Q_TICKS).map((v) => ({ value: v }));
            },
            afterFit: (s: any) => {
              s.width = 36;
            },
            border: { display: false },
            grid: { drawOnChartArea: false, drawTicks: true, tickLength: 4, color: BOX_COLOR, lineWidth: 1 },
            ticks: {
              autoSkip: false,
              minRotation: 90,
              maxRotation: 90,
              crossAlign: "center",
              padding: 4,
              color: TEXT_COLOR,
              font: { family: FONT, size: FS },
              callback: (v: any) => String(v),
            },
          },
        },
      } as any,
    });
    return () => chart.destroy();
  }, [cfg]);
  return (
    <canvas
      ref={ref}
      width={500}
      height={cfg.height}
      style={{ position: "absolute", left: 0, top: cfg.top, width: 500, height: cfg.height }}
    />
  );
}

export default function App() {
  return (
    <div style={{ position: "absolute", left: 0, top: 0, width: 500, height: 450, background: "#fff", overflow: "hidden" }}>
      {PANELS.map((p) => (
        <Panel key={p.key} cfg={p} />
      ))}
    </div>
  );
}
